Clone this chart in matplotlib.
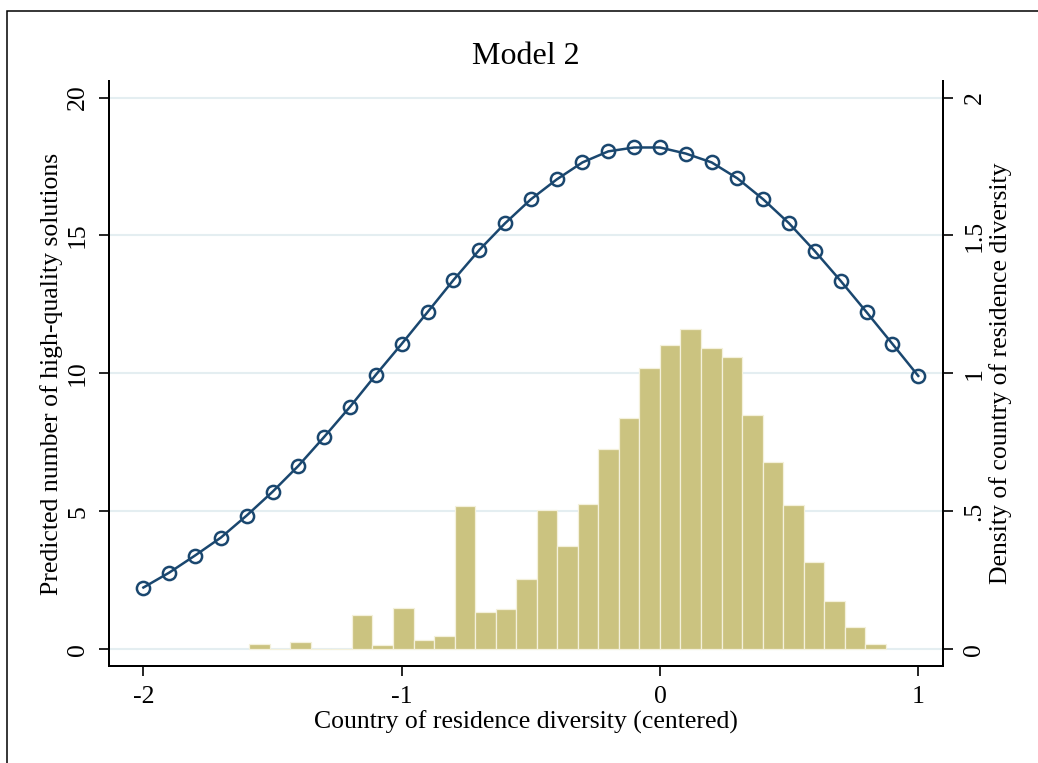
import numpy as np
import matplotlib
matplotlib.use("Agg")
import matplotlib.pyplot as plt
from matplotlib.patches import Rectangle

plt.rcParams["font.family"] = ["Liberation Serif", "DejaVu Serif"]

# predicted counts at each diversity value
div_x = [-2.0, -1.9, -1.8, -1.7, -1.6, -1.5, -1.4, -1.3, -1.2, -1.1, -1.0,
         -0.9, -0.8, -0.7, -0.6, -0.5, -0.4, -0.3, -0.2, -0.1, 0.0,
         0.1, 0.2, 0.3, 0.4, 0.5, 0.6, 0.7, 0.8, 0.9, 1.0]
predicted = [2.24, 2.78, 3.40, 4.05, 4.85, 5.71, 6.65, 7.70, 8.79, 9.95, 11.07,
             12.22, 13.38, 14.47, 15.44, 16.31, 17.03, 17.65, 18.05, 18.19, 18.19,
             17.97, 17.65, 17.07, 16.31, 15.44, 14.43, 13.35, 12.22, 11.07, 9.91]

# histogram of country of residence diversity
bin_start = -1.59
bin_width = 0.0795
density = [0.018, 0.0, 0.025, 0.0, 0.0, 0.123, 0.014, 0.150, 0.034, 0.047,
           0.520, 0.135, 0.146, 0.256, 0.504, 0.376, 0.528, 0.727, 0.840, 1.021,
           1.102, 1.161, 1.092, 1.058, 0.849, 0.679, 0.524, 0.316, 0.174, 0.082,
           0.019]

left_ticks = [0, 5, 10, 15, 20]
right_ticks = [0, 0.5, 1, 1.5, 2]
right_labels = ["0", ".5", "1", "1.5", "2"]
x_ticks = [-2, -1, 0, 1]

navy = "#1A476F"
khaki = "#CBC380"
grid_col = "#E4EEF1"
fs = 18.5

fig = plt.figure(figsize=(10.38, 7.63), dpi=100)
fig.patch.set_facecolor("white")
ax = fig.add_axes([109.3 / 1038, 1 - 666 / 763, 834 / 1038, 585 / 763])
ax2 = ax.twinx()
ax.set_zorder(2)
ax2.set_zorder(1)
ax.patch.set_visible(False)
ax2.patch.set_facecolor("white")

edges = bin_start + bin_width * np.arange(len(density))
ax2.bar(edges, density, width=bin_width, align="edge", color=khaki,
        edgecolor="#F4F1DC", linewidth=0.9, zorder=2)

ax.plot(div_x, predicted, color=navy, lw=1.8, marker="o", ms=9.5,
        mfc="none", mec=navy, mew=1.8, zorder=3)

ax.set_xlim(-2.132, 1.097)
ax.set_ylim(-0.605, 20.6)
ax2.set_ylim(-0.0605, 2.06)

ax.set_xticks(x_ticks)
ax.set_xticklabels([str(t) for t in x_ticks])
ax.set_yticks(left_ticks)
ax.set_yticklabels([str(t) for t in left_ticks], rotation=90, va="center")
ax2.set_yticks(right_ticks)
ax2.set_yticklabels(right_labels, rotation=90, va="center")

ax2.yaxis.grid(True, color=grid_col, lw=1.5)
ax2.set_axisbelow(True)

for a in (ax, ax2):
    a.spines["top"].set_visible(False)
    for s in ("left", "right", "bottom"):
        a.spines[s].set_linewidth(1.4)
    a.tick_params(direction="out", length=7.5, width=1.2, labelsize=fs, pad=7)

fig.text(526 / 1038, 1 - 57 / 763, "Model 2", ha="center", va="center", fontsize=23)

ax.set_xlabel("Country of residence diversity (centered)", fontsize=fs, va="center")
ax.xaxis.set_label_coords(0.5, -0.0957)
ax.set_ylabel("Predicted number of high-quality solutions", fontsize=fs, va="center")
ax.yaxis.set_label_coords(-0.0687, 0.5)
ax2.set_ylabel("Density of country of residence diversity", fontsize=fs,
               va="center", rotation=90)
ax2.yaxis.set_label_coords(1.068, 0.5)

# outer frame around the graph region
fig.add_artist(Rectangle((7 / 1038, -0.1), 1.2, 1.1 - 11 / 763,
                         transform=fig.transFigure, fill=False,
                         edgecolor="black", lw=1.1, clip_on=False))

fig.savefig("out.png", dpi=100)
